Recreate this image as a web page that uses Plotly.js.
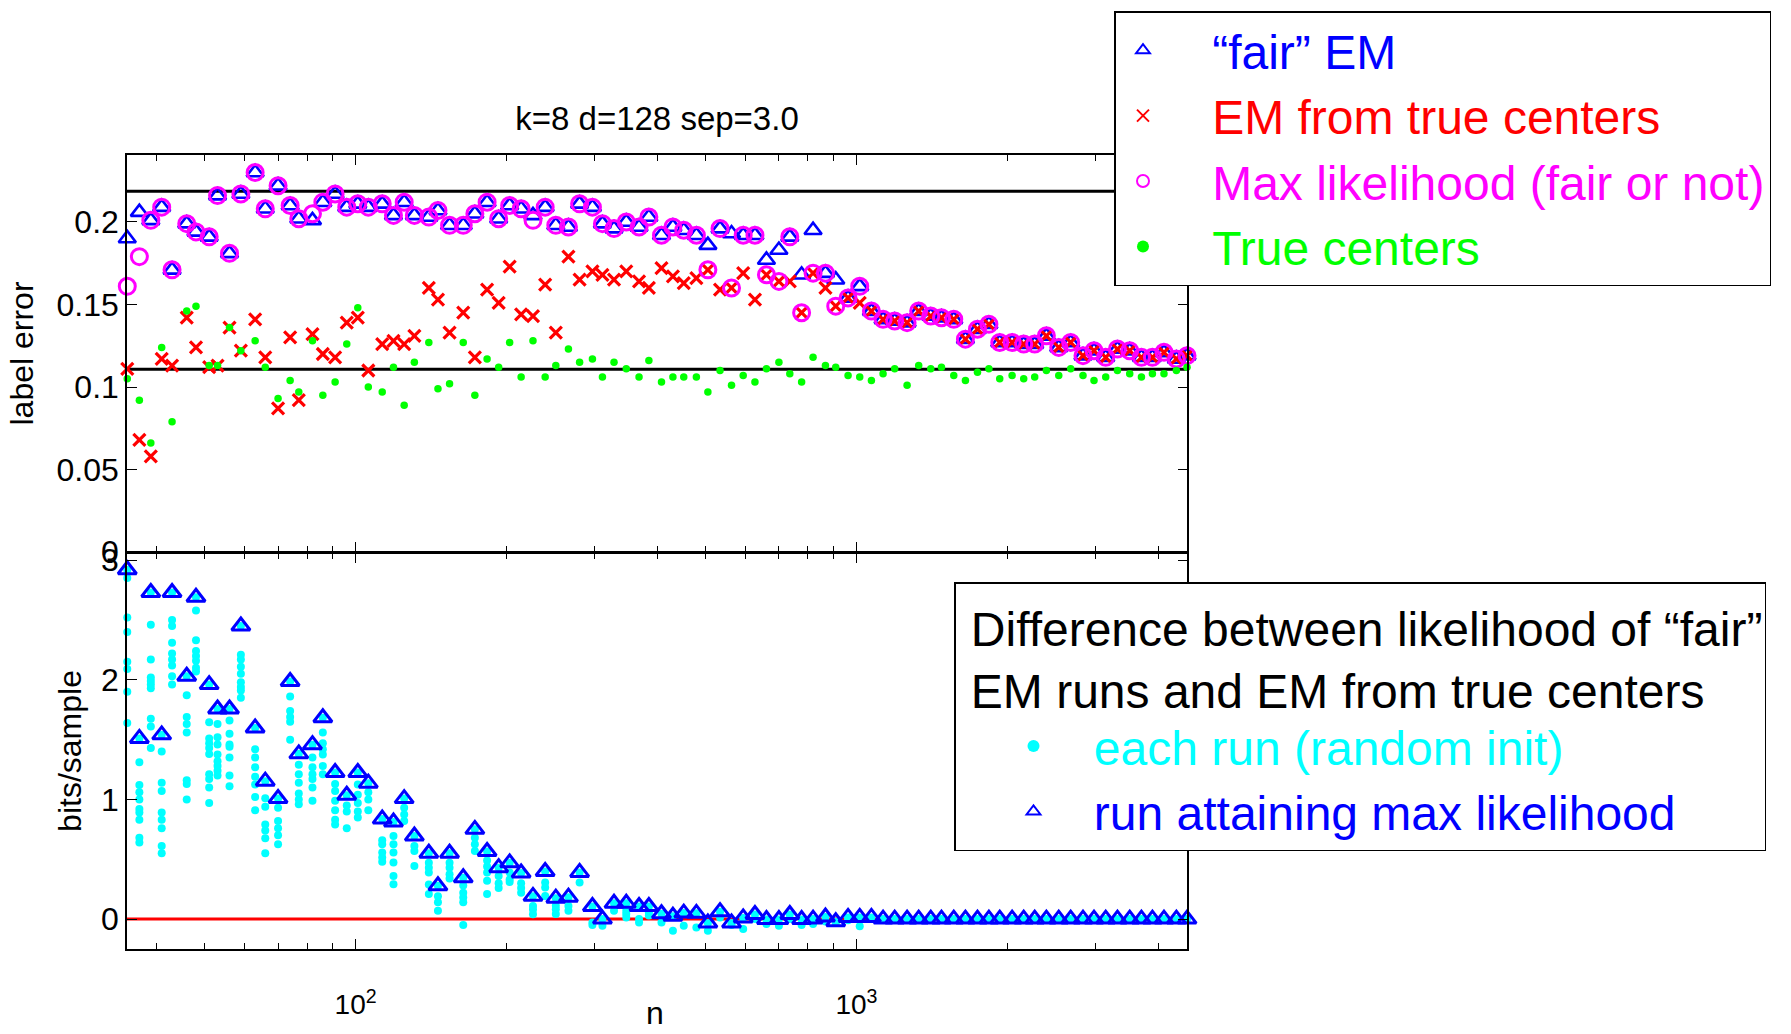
<!DOCTYPE html>
<html>
<head>
<meta charset="utf-8">
<script src="https://cdn.plot.ly/plotly-3.0.1.min.js"></script>
<style>html,body{margin:0;padding:0;background:#fff;}#chart{width:1791px;height:1034px;}</style>
</head>
<body>
<div id="chart"></div>
<script>
// sample sizes n (x values, log axis)
const n = [35, 37, 39, 41, 43, 46, 48, 51, 53, 56,
  59, 63, 66, 70, 74, 77, 82, 86, 91, 96,
  101, 106, 113, 119, 125, 131, 140, 146, 154, 164,
  173, 183, 193, 203, 214, 226, 239, 251, 266, 280,
  297, 311, 328, 347, 368, 385, 408, 430, 452, 479,
  505, 534, 563, 594, 627, 661, 700, 736, 777, 819,
  867, 909, 962, 1015, 1071, 1130, 1192, 1262, 1331, 1407,
  1478, 1564, 1650, 1744, 1838, 1932, 2045, 2157, 2269, 2394,
  2534, 2677, 2833, 2980, 3145, 3319, 3512, 3706, 3898, 4111,
  4352, 4570];

// top panel: label error
const fairEM = [0.190, 0.206, 0.201, 0.209, 0.171, 0.199, 0.194, 0.191, 0.216, 0.181,
  0.217, 0.230, 0.208, 0.222, 0.210, 0.202, 0.201, 0.212, 0.217, 0.209,
  0.211, 0.209, 0.211, 0.204, 0.212, 0.204, 0.203, 0.207, 0.198, 0.198,
  0.205, 0.212, 0.202, 0.210, 0.208, 0.204, 0.209, 0.198, 0.197, 0.211,
  0.209, 0.199, 0.196, 0.200, 0.197, 0.203, 0.192, 0.197, 0.195, 0.192,
  0.186, 0.196, 0.193, 0.192, 0.192, 0.177, 0.183, 0.191, 0.168, 0.195,
  0.169, 0.165, 0.154, 0.161, 0.146, 0.141, 0.140, 0.139, 0.146, 0.143,
  0.142, 0.141, 0.129, 0.135, 0.138, 0.127, 0.127, 0.126, 0.126, 0.131,
  0.124, 0.127, 0.119, 0.122, 0.118, 0.123, 0.122, 0.118, 0.118, 0.121,
  0.117, 0.119];
const emTrueCenters = [0.111, 0.068, 0.058, 0.117, 0.113, 0.142, 0.124, 0.112, 0.113, 0.136,
  0.122, 0.141, 0.118, 0.087, 0.130, 0.092, 0.132, 0.120, 0.118, 0.139,
  0.142, 0.110, 0.126, 0.128, 0.126, 0.131, 0.160, 0.153, 0.133, 0.145,
  0.118, 0.159, 0.151, 0.173, 0.144, 0.143, 0.162, 0.133, 0.179, 0.165,
  0.170, 0.168, 0.165, 0.170, 0.164, 0.160, 0.172, 0.167, 0.163, 0.166,
  0.171, 0.159, 0.160, 0.169, 0.153, 0.168, 0.164, 0.164, 0.145, 0.169,
  0.160, 0.149, 0.154, 0.151, 0.146, 0.141, 0.140, 0.139, 0.146, 0.143,
  0.142, 0.141, 0.129, 0.135, 0.138, 0.127, 0.127, 0.126, 0.126, 0.131,
  0.124, 0.127, 0.119, 0.122, 0.118, 0.123, 0.122, 0.118, 0.118, 0.121,
  0.117, 0.119];
const maxLikelihood = [0.161, 0.179, 0.201, 0.209, 0.171, 0.199, 0.194, 0.191, 0.216, 0.181,
  0.217, 0.230, 0.208, 0.222, 0.210, 0.202, 0.205, 0.212, 0.217, 0.209,
  0.211, 0.209, 0.211, 0.204, 0.212, 0.204, 0.203, 0.207, 0.198, 0.198,
  0.205, 0.212, 0.202, 0.210, 0.208, 0.201, 0.209, 0.198, 0.197, 0.211,
  0.209, 0.199, 0.196, 0.200, 0.197, 0.203, 0.192, 0.197, 0.195, 0.192,
  0.171, 0.196, 0.160, 0.192, 0.192, 0.168, 0.164, 0.191, 0.145, 0.169,
  0.169, 0.149, 0.154, 0.161, 0.146, 0.141, 0.140, 0.139, 0.146, 0.143,
  0.142, 0.141, 0.129, 0.135, 0.138, 0.127, 0.127, 0.126, 0.126, 0.131,
  0.124, 0.127, 0.119, 0.122, 0.118, 0.123, 0.122, 0.118, 0.118, 0.121,
  0.117, 0.119];
const trueCenters = [0.105, 0.092, 0.066, 0.124, 0.079, 0.146, 0.149, 0.113, 0.113, 0.136,
  0.122, 0.128, 0.112, 0.093, 0.104, 0.097, 0.128, 0.095, 0.103, 0.126,
  0.148, 0.100, 0.097, 0.112, 0.089, 0.115, 0.127, 0.099, 0.102, 0.127,
  0.095, 0.117, 0.112, 0.127, 0.106, 0.128, 0.106, 0.113, 0.123, 0.115,
  0.117, 0.106, 0.115, 0.111, 0.106, 0.116, 0.103, 0.106, 0.106, 0.106,
  0.097, 0.110, 0.101, 0.107, 0.103, 0.111, 0.115, 0.108, 0.103, 0.118,
  0.113, 0.112, 0.107, 0.106, 0.104, 0.108, 0.111, 0.101, 0.113, 0.111,
  0.112, 0.107, 0.104, 0.109, 0.111, 0.105, 0.107, 0.105, 0.106, 0.110,
  0.107, 0.111, 0.107, 0.104, 0.106, 0.110, 0.108, 0.106, 0.108, 0.108,
  0.110, 0.112];
const labelErrorRefLines = [0.2186, 0.1107];

// bottom panel: bits/sample
const bitsMaxRun = [2.92, 1.51, 2.73, 1.54, 2.73, 2.03, 2.69, 1.96, 1.756, 1.756,
  2.45, 1.597, 1.153, 1.008, 1.986, 1.381, 1.458, 1.683, 1.225, 1.035,
  1.225, 1.136, 0.836, 0.811, 1.007, 0.694, 0.55, 0.278, 0.55, 0.345,
  0.75, 0.565, 0.43, 0.47, 0.385, 0.19, 0.398, 0.175, 0.183, 0.39,
  0.105, 0.0, 0.132, 0.132, 0.105, 0.105, 0.045, 0.024, 0.05, 0.048,
  -0.033, 0.062, -0.032, 0.01, 0.038, -0.004, -0.004, 0.038, -0.004, 0.0,
  0.017, -0.022, 0.014, 0.014, 0.014, 0.0, 0.0, 0.0, 0.0, 0.0,
  0.0, 0.0, 0.0, 0.0, 0.0, 0.0, 0.0, 0.0, 0.0, 0.0,
  0.0, 0.0, 0.0, 0.0, 0.0, 0.0, 0.0, 0.0, 0.0, 0.0,
  0.0, 0.0];
const bitsEachRun = [
  [2.92, 2.85, 2.52, 2.40, 2.15, 2.09, 1.90, 1.64],
  [1.51, 1.31, 1.12, 1.06, 1.00, 0.92, 0.89, 0.83, 0.68, 0.64],
  [2.73, 2.46, 2.17, 2.02, 1.99, 1.96, 1.93, 1.675, 1.61, 1.43],
  [1.54, 1.40, 1.14, 1.07, 0.89, 0.83, 0.76, 0.61, 0.55],
  [2.73, 2.50, 2.45, 2.31, 2.22, 2.17, 2.12, 2.03, 1.96],
  [2.03, 1.87, 1.69, 1.63, 1.56, 1.16, 1.13, 1.00],
  [2.69, 2.58, 2.33, 2.24, 2.20, 2.16, 2.10, 2.07],
  [1.96, 1.645, 1.51, 1.47, 1.43, 1.38, 1.21, 1.17, 1.10, 0.97],
  [1.756, 1.63, 1.52, 1.46, 1.375, 1.32, 1.28, 1.24, 1.20],
  [1.756, 1.66, 1.55, 1.46, 1.44, 1.35, 1.20, 1.11],
  [2.45, 2.21, 2.17, 2.11, 2.05, 1.98, 1.94, 1.91, 1.85],
  [1.597, 1.42, 1.35, 1.27, 1.19, 1.125, 1.02, 0.91],
  [1.153, 1.01, 0.94, 0.79, 0.74, 0.675, 0.55],
  [1.008, 0.93, 0.82, 0.76, 0.70, 0.625],
  [1.986, 1.86, 1.74, 1.69, 1.65, 1.50],
  [1.381, 1.29, 1.21, 1.14, 1.05, 1.00, 0.96],
  [1.458, 1.35, 1.27, 1.21, 1.17, 1.10, 0.99],
  [1.683, 1.56, 1.47, 1.42, 1.375, 1.28, 1.21],
  [1.225, 1.13, 1.07, 0.99, 0.91, 0.83, 0.79],
  [1.035, 0.95, 0.90, 0.76],
  [1.225, 1.125, 1.04, 0.97, 0.90, 0.85],
  [1.136, 1.06, 1.00, 0.91],
  [0.836, 0.66, 0.625, 0.556, 0.514, 0.48],
  [0.811, 0.694, 0.625, 0.556, 0.472, 0.361, 0.292],
  [1.007, 0.93, 0.875, 0.82],
  [0.694, 0.611, 0.569, 0.444],
  [0.55, 0.47, 0.43, 0.39, 0.29, 0.21],
  [0.278, 0.19, 0.14, 0.07],
  [0.55, 0.47, 0.43, 0.375, 0.34],
  [0.345, 0.28, 0.22, 0.18, 0.14, -0.05],
  [0.75, 0.68, 0.625, 0.57],
  [0.565, 0.49, 0.44, 0.39, 0.32, 0.21],
  [0.43, 0.36, 0.30, 0.26],
  [0.47, 0.39, 0.33, 0.31],
  [0.385, 0.30, 0.26, 0.22],
  [0.19, 0.11, 0.08, 0.04],
  [0.398, 0.306, 0.264, 0.194],
  [0.175, 0.111, 0.083, 0.042],
  [0.183, 0.11, 0.07],
  [0.39, 0.306],
  [0.105, -0.028, -0.05],
  [0.0, -0.056],
  [0.132, 0.07],
  [0.132, 0.07, 0.042, 0.014],
  [0.105, 0.0, -0.028],
  [0.105, 0.056, 0.03],
  [0.045, -0.028],
  [0.024, -0.097],
  [0.05, -0.056],
  [0.048, -0.07],
  [-0.033, -0.097],
  [0.062, 0.014],
  [-0.032, -0.05],
  [0.01, -0.083],
  [0.038, 0.0],
  [-0.004, -0.042],
  [-0.004, -0.056],
  [0.038, 0.0],
  [-0.004, -0.05],
  [0.0, -0.042],
  [0.017, -0.02],
  [-0.022, -0.03],
  [0.014, -0.01],
  [0.014, -0.06],
  [0.014], [0.0], [0.0], [0.0], [0.0], [0.0], [0.0], [0.0], [0.0], [0.0],
  [0.0], [0.0], [0.0], [0.0], [0.0], [0.0], [0.0], [0.0], [0.0], [0.0],
  [0.0], [0.0], [0.0], [0.0], [0.0], [0.0], [0.0], [0.0]
];
const bitsRefLine = [0];

const xMajorTicks = [100, 1000];
const xMajorLabels = ['10<sup>2</sup>', '10<sup>3</sup>'];
const xMinorTicks = [40, 50, 60, 70, 80, 90, 200, 300, 400, 500, 600, 700, 800, 900, 2000, 3000, 4000];
const yTopTicks = [0, 0.05, 0.1, 0.15, 0.2];
const yTopLabels = ['0', '0.05', '0.1', '0.15', '0.2'];
const yBottomTicks = [0, 1, 2, 3];

// flatten each-run values
const runX = [], runY = [];
bitsEachRun.forEach((vals, i) => vals.forEach(v => { runX.push(n[i]); runY.push(v); }));

const BLUE = '#0000ff', RED = '#ff0000', MAGENTA = '#ff00ff', GREEN = '#00ff00', CYAN = '#00ffff';
const SP2 = '\u00a0\u00a0', SP1 = '\u00a0';
const colored = (c, t, pad) => '<span style="color:' + c + '">' + pad + t + '</span>';

const traces = [
  {x: n, y: fairEM, xaxis: 'x', yaxis: 'y', type: 'scatter', mode: 'markers', cliponaxis: false,
   name: colored(BLUE, '“fair” EM', SP2), legend: 'legend', legendgroup: 'a',
   marker: {symbol: 'triangle-up-open', size: 15, color: BLUE, line: {width: 2.6, color: BLUE}}},
  {x: n, y: emTrueCenters, xaxis: 'x', yaxis: 'y', type: 'scatter', mode: 'markers', cliponaxis: false,
   name: colored(RED, 'EM from true centers', SP2), legend: 'legend', legendgroup: 'b',
   marker: {symbol: 'x-thin-open', size: 12, color: RED, line: {width: 3.2, color: RED}}},
  {x: n, y: maxLikelihood, xaxis: 'x', yaxis: 'y', type: 'scatter', mode: 'markers', cliponaxis: false,
   name: colored(MAGENTA, 'Max likelihood (fair or not)', SP2), legend: 'legend', legendgroup: 'c',
   marker: {symbol: 'circle-open', size: 16, color: MAGENTA, line: {width: 3, color: MAGENTA}}},
  {x: n, y: trueCenters, xaxis: 'x', yaxis: 'y', type: 'scatter', mode: 'markers', cliponaxis: false,
   name: colored(GREEN, 'True centers', SP2), legend: 'legend', legendgroup: 'd',
   marker: {symbol: 'circle', size: 7.5, color: GREEN}},
  {x: runX, y: runY, xaxis: 'x2', yaxis: 'y2', type: 'scatter', mode: 'markers', cliponaxis: false,
   name: colored(CYAN, 'each run (random init)', SP1), legend: 'legend2', legendgroup: 'e',
   marker: {symbol: 'circle', size: 8, color: CYAN}},
  {x: n, y: bitsMaxRun, xaxis: 'x2', yaxis: 'y2', type: 'scatter', mode: 'markers', cliponaxis: false,
   name: colored(BLUE, 'run attaining max likelihood', SP1), legend: 'legend2', legendgroup: 'f',
   marker: {symbol: 'triangle-up-open', size: 16, color: BLUE, line: {width: 3, color: BLUE}}}
];

const xDomain = [127 / 1791, 1187.3 / 1791];
const xRange = [1.5435, 3.6605];
const axisCommon = {
  showline: true, linecolor: '#000', linewidth: 1.5, mirror: 'allticks',
  ticks: 'inside', ticklen: 10, tickwidth: 1.3, tickcolor: '#000',
  showgrid: false, zeroline: false
};
const minorCommon = {ticks: 'inside', ticklen: 6, tickwidth: 1.1, tickcolor: '#000', tickmode: 'array', tickvals: xMinorTicks, showgrid: false};

const shapes = [];
labelErrorRefLines.forEach(v => shapes.push({type: 'line', xref: 'x domain', yref: 'y', x0: 0, x1: 1, y0: v, y1: v, layer: 'below', line: {color: '#000', width: 3}}));
bitsRefLine.forEach(v => shapes.push({type: 'line', xref: 'x2 domain', yref: 'y2', x0: 0, x1: 1, y0: v, y1: v, layer: 'below', line: {color: RED, width: 3}}));

const layout = {
  width: 1791, height: 1034,
  margin: {l: 0, r: 0, t: 0, b: 0, pad: 0, autoexpand: false},
  paper_bgcolor: '#fff', plot_bgcolor: '#fff',
  font: {family: '"Liberation Sans", Arial, sans-serif', size: 32, color: '#000'},
  title: {text: 'k=8 d=128 sep=3.0', x: 657 / 1791, xanchor: 'center', y: 1 - 118 / 1034, yanchor: 'middle', font: {size: 33, color: '#000'}},
  xaxis: Object.assign({}, axisCommon, {type: 'log', domain: xDomain, range: xRange, anchor: 'y',
    tickmode: 'array', tickvals: xMajorTicks, ticktext: xMajorLabels, showticklabels: false, minor: minorCommon}),
  yaxis: Object.assign({}, axisCommon, {domain: [1 - 552 / 1034, 1 - 155 / 1034], range: [0, 0.2406], anchor: 'x',
    tickmode: 'array', tickvals: yTopTicks, ticktext: yTopLabels, tickfont: {size: 32},
    title: {text: 'label error', font: {size: 32}, standoff: 13}}),
  xaxis2: Object.assign({}, axisCommon, {type: 'log', domain: xDomain, range: xRange, anchor: 'y2', matches: 'x',
    tickmode: 'array', tickvals: xMajorTicks, ticktext: xMajorLabels, tickfont: {size: 28}, ticklabelstandoff: 30, minor: minorCommon}),
  yaxis2: Object.assign({}, axisCommon, {domain: [1 - 949 / 1034, 1 - 553 / 1034], range: [-0.25, 3.06], anchor: 'x2',
    tickmode: 'array', tickvals: yBottomTicks, tickfont: {size: 32},
    title: {text: 'bits/sample', font: {size: 32}, standoff: 10}}),
  shapes: shapes,
  annotations: [
    {text: 'n', xref: 'paper', yref: 'paper', x: 655 / 1791, y: 1 / 1034, xanchor: 'center', yanchor: 'bottom', showarrow: false, font: {size: 32, color: '#000'}}
  ],
  legend: {x: 1114 / 1791, xanchor: 'left', y: 1 - 11 / 1034, yanchor: 'top', bgcolor: '#fff', bordercolor: '#000', borderwidth: 1.5,
    font: {size: 48}, itemsizing: 'constant', itemwidth: 75, indentation: -15, tracegroupgap: 10, traceorder: 'normal'},
  legend2: {x: 954 / 1791, xanchor: 'left', y: 1 - 582 / 1034, yanchor: 'top', bgcolor: '#fff', bordercolor: '#000', borderwidth: 1.5,
    font: {size: 48}, itemsizing: 'constant', itemwidth: 84, indentation: 31, tracegroupgap: 0, traceorder: 'normal',
    title: {text: '\u00a0Difference between likelihood of “fair”<br>\u00a0EM runs and EM from true centers', font: {size: 48, color: '#000'}}}
};

Plotly.newPlot('chart', traces, layout, {displayModeBar: false, responsive: false});
</script>
</body>
</html>
